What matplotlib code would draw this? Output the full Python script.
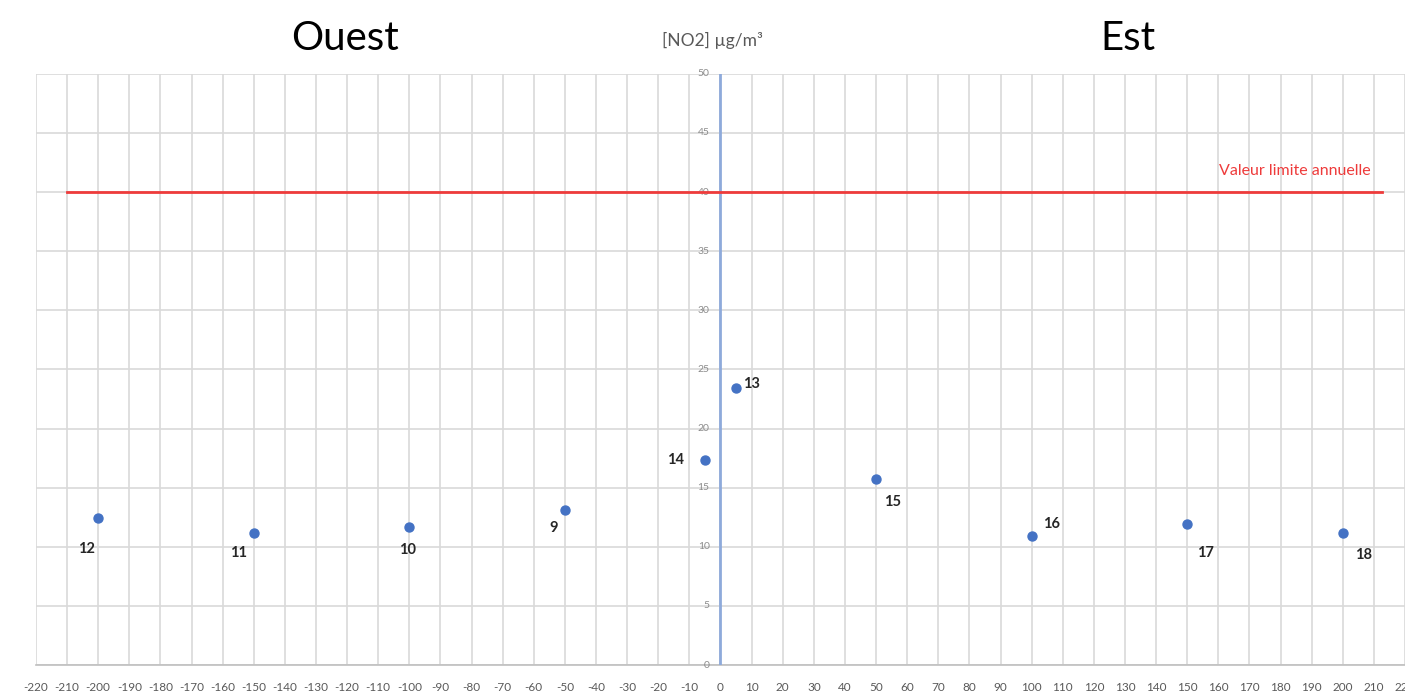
import numpy as np
import matplotlib.pyplot as plt

# ── DATA ───────────────────────────────────────────────────
distance = [-200, -150, -100, -50, -5, 5, 50, 100, 150, 200]
no2 = [12.4, 11.2, 11.7, 13.1, 17.3, 23.4, 15.7, 10.9, 11.9, 11.2]
site_ids = ["12", "11", "10", "9", "14", "13", "15", "16", "17", "18"]
# label offsets in points (dx, dy) for each site number
label_offsets = [(-8.5, -22), (-11, -14.5), (-1, -16.5), (-8, -13), (-21, 0),
                 (11, 3), (12, -16.5), (14, 8.5), (13, -21), (15, -16)]

limit_value = 40
x_ticks = list(range(-220, 221, 10))
y_ticks = list(range(0, 51, 5))

# ── PALETTE ────────────────────────────────────────────────
GRID = "#d9d9d9"
AXIS_BLUE = "#8eaadb"
POINT = "#4472c4"
RED = "#ee3b3b"
TICK = "#595959"

plt.rcParams["font.family"] = ["Lato", "DejaVu Sans"]

fig = plt.figure(figsize=(14.05, 6.93), dpi=100)
ax = fig.add_axes([0.0256, 0.0404, 0.9744, 0.8530])

ax.set_xlim(-220, 220)
ax.set_ylim(0, 50)

# grid
ax.set_xticks(x_ticks)
ax.set_yticks(y_ticks)
ax.grid(True, color=GRID, linewidth=1.2)
ax.set_axisbelow(True)
for side in ["top", "right", "left"]:
    ax.spines[side].set_visible(False)
ax.spines["bottom"].set_color("#bfbfbf")
ax.spines["bottom"].set_linewidth(1.2)

ax.set_xticklabels([str(v) for v in x_ticks], fontsize=8.5, color=TICK)
ax.tick_params(axis="x", length=0, pad=12)
ax.tick_params(axis="y", length=0, labelleft=False)

# y tick labels next to the vertical axis
for v in y_ticks:
    ax.text(-3.5, v, str(v), ha="right", va="center", fontsize=7.5,
            color="#8c8c8c")

# vertical axis at x=0
ax.plot([0, 0], [0, 50], color=AXIS_BLUE, linewidth=2, zorder=3)

# annual limit
ax.plot([-210, 212.5], [limit_value, limit_value], color=RED, linewidth=2, zorder=3)
ax.text(209, limit_value + 1.8, "Valeur limite annuelle", ha="right",
        va="center", fontsize=11.5, color=RED)

# points
ax.scatter(distance, no2, s=42, color=POINT, zorder=4)
for x, y, lab, (dx, dy) in zip(distance, no2, site_ids, label_offsets):
    ax.annotate(lab, (x, y), xytext=(dx, dy), textcoords="offset points",
                ha="center", va="center", fontsize=10.5, color="#262626",
                fontweight="bold")

# headers
fig.text(0.2456, 0.945, "Ouest", ha="center", va="center", fontsize=29)
fig.text(0.803, 0.945, "Est", ha="center", va="center", fontsize=29)
fig.text(0.507, 0.942, "[NO2] µg/m³", ha="center", va="center",
         fontsize=12.5, color=TICK)

plt.savefig("out.png", dpi=100)
